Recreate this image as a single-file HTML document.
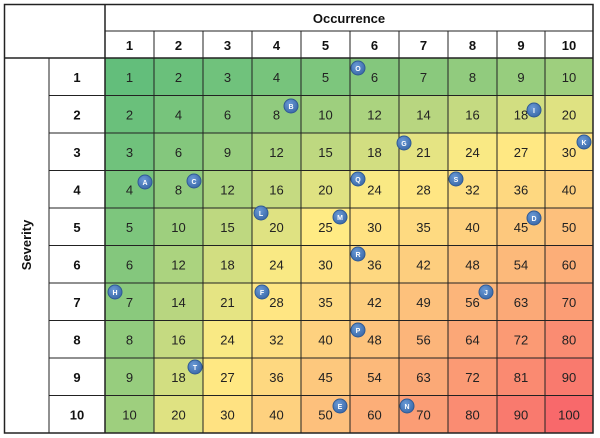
<!DOCTYPE html>
<html><head><meta charset="utf-8"><style>
html,body{margin:0;padding:0;background:#fff;}
svg{display:block;font-family:"Liberation Sans",sans-serif;}
</style></head><body>
<svg id="s" width="600" height="438" xmlns="http://www.w3.org/2000/svg">
<defs><radialGradient id="g" cx="40%" cy="35%" r="70%"><stop offset="0" stop-color="#6a9ad6"/><stop offset="1" stop-color="#3a68a8"/></radialGradient></defs>
<g id="cells"></g>
<g id="lines" stroke="#222" fill="none"></g>
<g id="txt"></g>
<g id="mk"></g>
</svg>
<script>
const ns="http://www.w3.org/2000/svg";
function el(p,t,a,txt){const e=document.createElementNS(ns,t);for(const k in a)e.setAttribute(k,a[k]);if(txt!==undefined)e.textContent=txt;p.appendChild(e);return e;}
const X=[105,154,203,252,301,350,399,448,497,545,593];
const Y=[58];for(let i=1;i<=10;i++)Y.push(58+i*37.5);
const G=[99,190,123],Yl=[255,235,132],R=[248,105,107];
function col(v){let a,b,t;if(v<=25){a=G;b=Yl;t=(v-1)/24;}else{a=Yl;b=R;t=(v-25)/75;}
return `rgb(${a.map((c,i)=>Math.round(c+(b[i]-c)*t)).join(',')})`;}
const cells=document.getElementById('cells'),txt=document.getElementById('txt'),ln=document.getElementById('lines');
for(let r=0;r<10;r++)for(let c=0;c<10;c++){const v=(r+1)*(c+1);
el(cells,'rect',{x:X[c],y:Y[r],width:X[c+1]-X[c],height:Y[r+1]-Y[r],fill:col(v)});
el(txt,'text',{x:(X[c]+X[c+1])/2,y:(Y[r]+Y[r+1])/2+5,'text-anchor':'middle','font-size':13,fill:'#222'},v);}
// grid lines
for(let r=0;r<=10;r++)el(ln,'line',{x1:49,x2:593,y1:Y[r],y2:Y[r],'stroke-width':1});
for(let c=0;c<=10;c++)el(ln,'line',{x1:X[c],x2:X[c],y1:31,y2:433,'stroke-width':1});
el(ln,'rect',{x:4.5,y:4.5,width:588.5,height:428.5,'stroke-width':1.5});
el(ln,'line',{x1:105,x2:105,y1:4,y2:433,'stroke-width':1.5});
el(ln,'line',{x1:4,x2:593,y1:58,y2:58,'stroke-width':1.5});
el(ln,'line',{x1:105,x2:593,y1:31,y2:31,'stroke-width':1});
el(ln,'line',{x1:49,x2:49,y1:58,y2:433,'stroke-width':1});
// headers
el(txt,'text',{x:349,y:23,'text-anchor':'middle','font-size':13,'font-weight':'bold',fill:'#111'},'Occurrence');
for(let c=0;c<10;c++)el(txt,'text',{x:(X[c]+X[c+1])/2,y:50,'text-anchor':'middle','font-size':13,'font-weight':'bold',fill:'#111'},c+1);
for(let r=0;r<10;r++)el(txt,'text',{x:77,y:(Y[r]+Y[r+1])/2+5,'text-anchor':'middle','font-size':13,'font-weight':'bold',fill:'#111'},r+1);
el(txt,'text',{x:0,y:0,'text-anchor':'middle','font-size':13,'font-weight':'bold',fill:'#111',transform:'translate(31,245) rotate(-90)'},'Severity');
const M=[['O',358,68],['B',291,106],['I',534,110],['G',404,143],['K',584,142],['A',145,182],['C',194,181],['Q',358,179],['S',456,179],['L',261,213],['M',340,217],['D',534,218],['R',358,254],['H',115,292],['F',262,292],['J',486,292],['P',358,330],['T',195,367],['E',340,406],['N',407,406]];
const mk=document.getElementById('mk');
for(const [l,x,y] of M){el(mk,'circle',{cx:x,cy:y,r:7,fill:'url(#g)',stroke:'#2f5a94','stroke-width':1});
el(mk,'text',{x:x,y:y+3,'text-anchor':'middle','font-size':7,'font-weight':'bold',fill:'#fff'},l);}
</script>
</body></html>
